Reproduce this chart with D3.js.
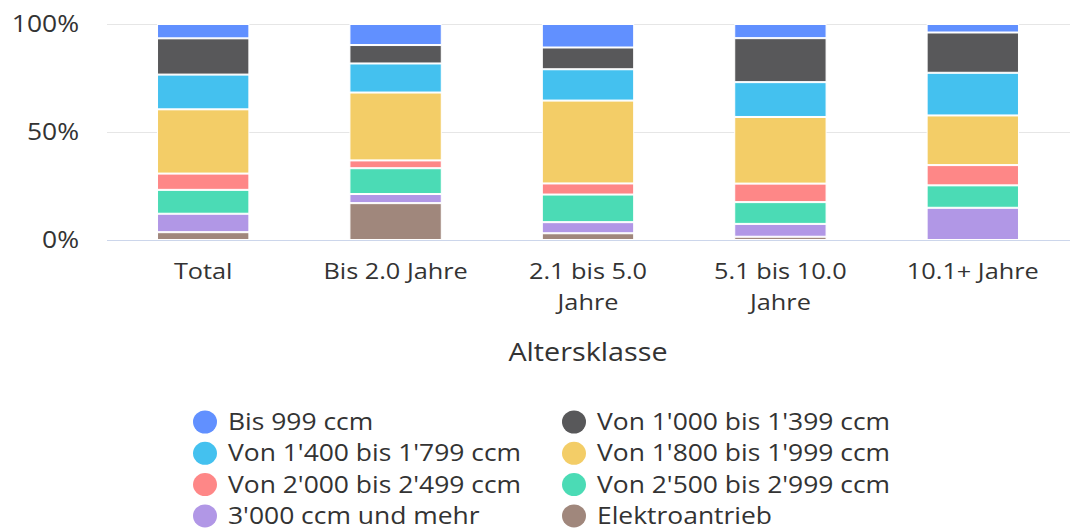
<!DOCTYPE html>
<html>
<head>
<meta charset="utf-8">
<title>Altersklasse</title>
<script src="https://cdn.jsdelivr.net/npm/d3@7"></script>
<style>
  body { margin: 0; background: #fff; font-family: 'Open Sans', sans-serif; }
  svg { display: block; }
  .grid line { stroke: #e6e6e6; stroke-width: 1; }
  .tick-label { font-size: 23px; fill: #333; }
  .x-label { font-size: 22px; fill: #333; }
  .axis-title { font-size: 25px; fill: #333; }
  .legend text { font-size: 23px; fill: #333; }
</style>
</head>
<body>
<svg id="chart" width="1070" height="530"></svg>
<script>
// categories (age classes)
const categories = ['Total', 'Bis 2.0 Jahre', '2.1 bis 5.0 Jahre', '5.1 bis 10.0 Jahre', '10.1+ Jahre'];

// series, top of stack first
const seriesNames = [
  'Bis 999 ccm', 'Von 1\'000 bis 1\'399 ccm', 'Von 1\'400 bis 1\'799 ccm', 'Von 1\'800 bis 1\'999 ccm',
  'Von 2\'000 bis 2\'499 ccm', 'Von 2\'500 bis 2\'999 ccm', '3\'000 ccm und mehr', 'Elektroantrieb'
];
const seriesColors = ['#6190ff', '#58585a', '#44c1ef', '#f3cd67', '#fe8787', '#4bdbb5', '#b197e6', '#a0877c'];

// percentages per series (same order as categories)
const bis999   = [6.6, 9.7, 10.8, 6.5, 3.9];
const von1000  = [16.7, 8.5, 10.0, 20.2, 18.5];
const von1400  = [16.0, 13.4, 14.4, 16.0, 19.6];
const von1800  = [29.6, 31.3, 38.1, 30.6, 22.8];
const von2000  = [7.5, 3.6, 5.1, 8.5, 9.3];
const von2500  = [11.0, 11.9, 12.7, 10.0, 10.3];
const ab3000   = [8.5, 4.2, 5.1, 5.9, 14.8];
const elektro  = [3.6, 17.0, 3.1, 1.5, 0];

const yTicks = [0, 50, 100];

const seriesValues = [bis999, von1000, von1400, von1800, von2000, von2500, ab3000, elektro];

// the source picture has its text a bit wider than normal
const stretch = 1.15;

const svg = d3.select('#chart');
const margin = { top: 24, left: 107, right: 1, bottom: 290 };
const width = 1070 - margin.left - margin.right;
const height = 530 - margin.top - margin.bottom;

const chart = svg.append('g').attr('transform', `translate(${margin.left}, ${margin.top})`);

const xScale = d3.scaleBand().domain(categories).range([0, width]).paddingInner(0.52).paddingOuter(0.26);
const yScale = d3.scaleLinear().domain([0, 100]).range([height, 0]);

// gridlines
chart.append('g').attr('class', 'grid')
  .selectAll('line').data(yTicks.filter(d => d > 0)).enter().append('line')
  .attr('x1', 0).attr('x2', width + margin.right)
  .attr('y1', d => Math.round(yScale(d)) + 0.5).attr('y2', d => Math.round(yScale(d)) + 0.5);

chart.append('line')
  .attr('x1', 0).attr('x2', width + margin.right)
  .attr('y1', height + 0.5).attr('y2', height + 0.5)
  .attr('stroke', '#ccd6eb');

// y labels
chart.selectAll('.tick-label').data(yTicks).enter().append('text')
  .attr('class', 'tick-label')
  .attr('transform', d => `translate(-28, ${yScale(d) + 8}) scale(${stretch}, 1)`)
  .attr('text-anchor', 'end')
  .text(d => d + '%');

// stacking, reversed so the last series is at the bottom
const rows = categories.map((c, i) => {
  const row = { cat: c };
  seriesNames.forEach((s, j) => { row[s] = seriesValues[j][i]; });
  return row;
});
const stack = d3.stack().keys(seriesNames.slice().reverse())
  .offset(d3.stackOffsetExpand);
const layers = stack(rows);

chart.append('g').selectAll('g').data(layers).enter().append('g')
  .attr('fill', d => seriesColors[seriesNames.indexOf(d.key)])
  .selectAll('rect').data(d => d.filter(p => p[1] - p[0] > 0)).enter().append('rect')
  .attr('x', d => xScale(d.data.cat) + 0.5)
  .attr('y', d => yScale(d[1] * 100) + 0.5)
  .attr('width', xScale.bandwidth() - 1)
  .attr('height', d => Math.max(0, yScale(d[0] * 100) - yScale(d[1] * 100) - 1))
  .attr('stroke', '#fff')
  .attr('stroke-width', 1);

// x labels with wrapping
function wrap(textSel, maxWidth) {
  textSel.each(function () {
    const t = d3.select(this);
    const words = t.text().split(' ');
    t.text(null);
    let line = [];
    let tspan = t.append('tspan').attr('x', 0).attr('dy', 0);
    words.forEach(w => {
      line.push(w);
      tspan.text(line.join(' '));
      if (tspan.node().getComputedTextLength() * stretch > maxWidth && line.length > 1) {
        line.pop();
        tspan.text(line.join(' '));
        line = [w];
        tspan = t.append('tspan').attr('x', 0).attr('dy', 31).text(w);
      }
    });
  });
}

chart.selectAll('.x-label').data(categories).enter().append('text')
  .attr('class', 'x-label')
  .attr('transform', d => `translate(${xScale(d) + xScale.bandwidth() / 2}, ${height + 39}) scale(${stretch}, 1)`)
  .attr('text-anchor', 'middle')
  .text(d => d)
  .call(wrap, 160);

chart.append('text')
  .attr('class', 'axis-title')
  .attr('transform', `translate(${width / 2}, ${height + 121}) scale(${stretch}, 1)`)
  .attr('text-anchor', 'middle')
  .text('Altersklasse');

// legend, two columns
const legend = svg.append('g').attr('class', 'legend');
const colX = [193, 562];
const items = legend.selectAll('g').data(seriesNames).enter().append('g')
  .attr('transform', (d, i) => `translate(${colX[i % 2]}, ${422 + Math.floor(i / 2) * 31.3})`);
items.append('ellipse')
  .attr('cx', 12).attr('cy', 0).attr('rx', 12).attr('ry', 11.5)
  .attr('fill', (d, i) => seriesColors[i]);
items.append('text')
  .attr('transform', `translate(35, 8) scale(${stretch}, 1)`)
  .text(d => d);
</script>
</body>
</html>
